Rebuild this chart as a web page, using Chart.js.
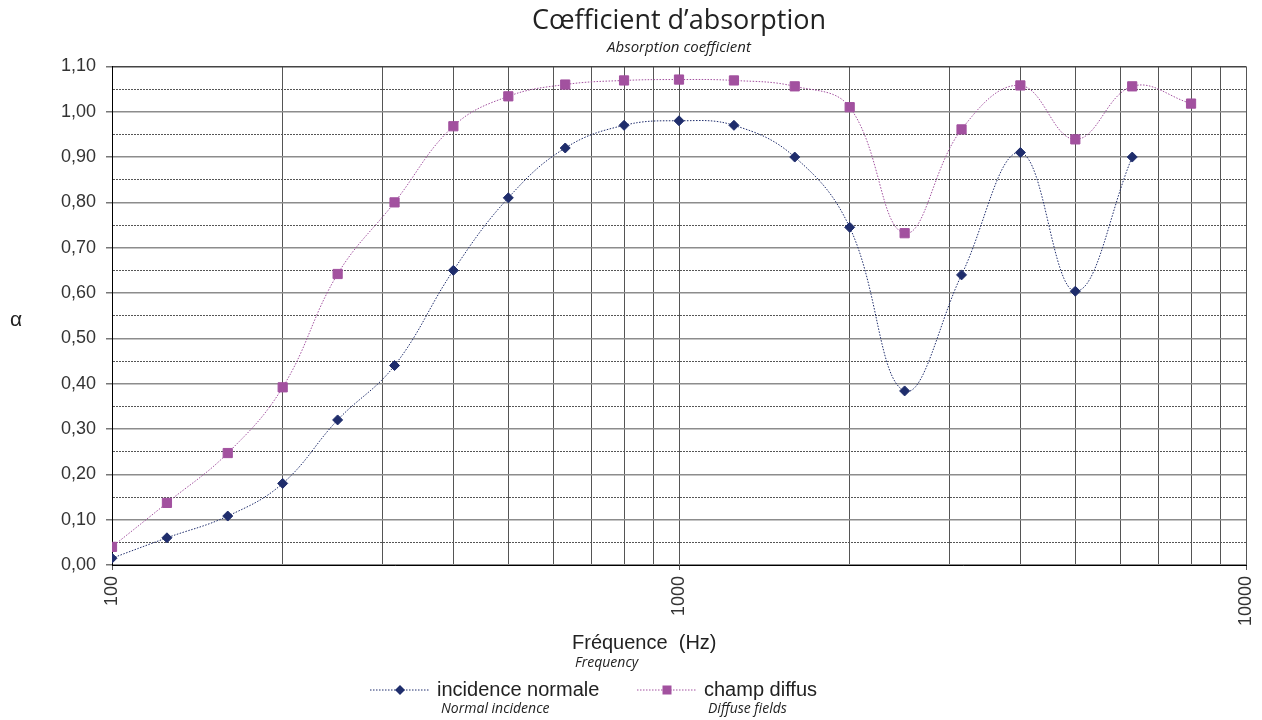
<!DOCTYPE html>
<html>
<head>
<meta charset="utf-8">
<script src="https://cdn.jsdelivr.net/npm/chart.js@4.4.0/dist/chart.umd.min.js"></script>
<style>
  html, body { margin: 0; padding: 0; background: #fff; }
  #wrap { width: 1262px; height: 720px; }
</style>
</head>
<body>
<div id="wrap"><canvas id="chart" width="1262" height="720"></canvas></div>
<script>
// frequencies (Hz), third-octave bands
const frequencies = [100, 125, 160, 200, 250, 315, 400, 500, 630, 800, 1000, 1250, 1600, 2000, 2500, 3150, 4000, 5000, 6300, 8000];
const normalIncidence = [0.015, 0.06, 0.108, 0.18, 0.32, 0.44, 0.65, 0.81, 0.92, 0.97, 0.98, 0.97, 0.90, 0.745, 0.384, 0.64, 0.91, 0.604, 0.90, null];
const diffuseField = [0.04, 0.137, 0.247, 0.392, 0.642, 0.80, 0.968, 1.034, 1.06, 1.069, 1.071, 1.069, 1.056, 1.01, 0.732, 0.961, 1.058, 0.939, 1.056, 1.018];
const xTicks = [100, 200, 300, 400, 500, 600, 700, 800, 900, 1000, 2000, 3000, 4000, 5000, 6000, 7000, 8000, 9000, 10000];
const xLabels = [100, 1000, 10000];

const navy = '#1f2d6c';
const purple = '#a2519f';

const toPoints = (vals) => frequencies.map((f, i) => ({ x: f, y: vals[i] }));
const isMajorY = (v) => Math.round(v * 100) % 10 === 0;

// extra texts: alpha, x title, legend with italic captions
const extraText = {
    id: 'extraText',
    afterDraw(chart) {
        const c = chart.ctx;
        c.save();
        c.fillStyle = '#222';
        c.textBaseline = 'middle';
        c.textAlign = 'left';
        c.font = '21px "Liberation Sans", Arial, sans-serif';
        c.fillText('α', 10, 320);
        c.font = '20px "Liberation Sans", Arial, sans-serif';
        c.fillText('Fréquence  (Hz)', 572, 643);

        c.font = 'italic 14px "Open Sans", sans-serif';
        c.fillText('Frequency', 575, 663);

        const items = [
            { ds: chart.data.datasets[0], x: 370, text: 'incidence normale', cap: 'Normal incidence', capX: 441 },
            { ds: chart.data.datasets[1], x: 637, text: 'champ diffus', cap: 'Diffuse fields', capX: 708 }
        ];
        const y = 690;
        items.forEach(it => {
            c.strokeStyle = it.ds.borderColor;
            c.lineWidth = 1;
            c.setLineDash([1.5, 1.5]);
            c.beginPath();
            c.moveTo(it.x, y);
            c.lineTo(it.x + 60, y);
            c.stroke();
            c.setLineDash([]);
            c.fillStyle = it.ds.pointBackgroundColor;
            const cx = it.x + 30;
            if (it.ds.pointStyle === 'rectRot') {
                c.beginPath();
                c.moveTo(cx - 5, y); c.lineTo(cx, y - 5); c.lineTo(cx + 5, y); c.lineTo(cx, y + 5);
                c.closePath();
                c.fill();
            } else {
                c.fillRect(cx - 4.5, y - 4.5, 9, 9);
            }
            c.fillStyle = '#222';
            c.font = '20px "Liberation Sans", Arial, sans-serif';
            c.fillText(it.text, it.x + 67, y);
            c.font = 'italic 14px "Open Sans", sans-serif';
            c.fillText(it.cap, it.capX, y + 19);
        });
        c.restore();
    }
};

new Chart(document.getElementById('chart'), {
    type: 'line',
    data: {
        datasets: [{
            label: 'incidence normale',
            data: toPoints(normalIncidence),
            borderColor: navy,
            backgroundColor: navy,
            pointBackgroundColor: navy,
            pointBorderColor: navy,
            pointStyle: 'rectRot',
            pointRadius: 5,
            borderWidth: 1,
            borderDash: [1.5, 1.5],
            tension: 0.4
        }, {
            label: 'champ diffus',
            data: toPoints(diffuseField),
            borderColor: purple,
            backgroundColor: purple,
            pointBackgroundColor: purple,
            pointBorderColor: purple,
            pointStyle: 'rect',
            pointRadius: 6.5,
            borderWidth: 1,
            borderDash: [1.5, 1.5],
            tension: 0.4
        }]
    },
    options: {
        responsive: false,
        animation: false,
        layout: { padding: { left: 0, right: 16, top: 0, bottom: 65 } },
        plugins: {
            legend: { display: false },
            tooltip: { enabled: false },
            title: {
                display: true,
                fullSize: false,
                text: 'Cœfficient d’absorption',
                color: '#222',
                font: { family: '"Open Sans", sans-serif', size: 27, weight: 'normal' },
                padding: { top: 5, bottom: 0 }
            },
            subtitle: {
                display: true,
                fullSize: false,
                text: 'Absorption coefficient',
                color: '#222',
                font: { family: '"Open Sans", sans-serif', size: 15, style: 'italic' },
                padding: { top: 1, bottom: 10 }
            }
        },
        scales: {
            x: {
                type: 'logarithmic',
                min: 100,
                max: 10000,
                afterBuildTicks: (scale) => { scale.ticks = xTicks.map(v => ({ value: v })); },
                afterFit: (scale) => {
                    scale.height = 90;
                    scale.paddingLeft = 10;
                    scale.paddingRight = 10;
                },
                ticks: {
                    autoSkip: false,
                    minRotation: 90,
                    maxRotation: 90,
                    padding: 6,
                    color: '#333',
                    font: { family: '"Liberation Sans", Arial, sans-serif', size: 18 },
                    callback: (v) => xLabels.includes(v) ? String(v) : ''
                },
                grid: {
                    color: '#555',
                    lineWidth: 1,
                    tickLength: 5,
                    tickColor: (ctx) => ctx.tick && xLabels.includes(ctx.tick.value) ? '#555' : 'rgba(0,0,0,0)'
                },
                border: { color: '#000', width: 1 }
            },
            y: {
                min: 0,
                max: 1.1,
                afterFit: (scale) => { scale.width = 112; },
                ticks: {
                    stepSize: 0.05,
                    maxTicksLimit: 30,
                    autoSkip: false,
                    padding: 10,
                    color: '#333',
                    font: { family: '"Liberation Sans", Arial, sans-serif', size: 18 },
                    callback: (v) => isMajorY(v) ? v.toFixed(2).replace('.', ',') : ''
                },
                grid: {
                    color: (ctx) => {
                        if (!ctx.tick) return '#888';
                        if (ctx.tick.value > 1.09) return '#444';
                        return isMajorY(ctx.tick.value) ? '#8c8c8c' : '#555';
                    },
                    lineWidth: (ctx) => ctx.tick && isMajorY(ctx.tick.value) ? 1.5 : 1,
                    tickLength: 6,
                    tickColor: (ctx) => ctx.tick && isMajorY(ctx.tick.value) ? '#777' : 'rgba(0,0,0,0)'
                },
                border: {
                    color: '#000',
                    width: 1,
                    dash: (ctx) => ctx.tick && !isMajorY(ctx.tick.value) ? [2, 1] : []
                }
            }
        }
    },
    plugins: [extraText]
});
</script>
</body>
</html>
